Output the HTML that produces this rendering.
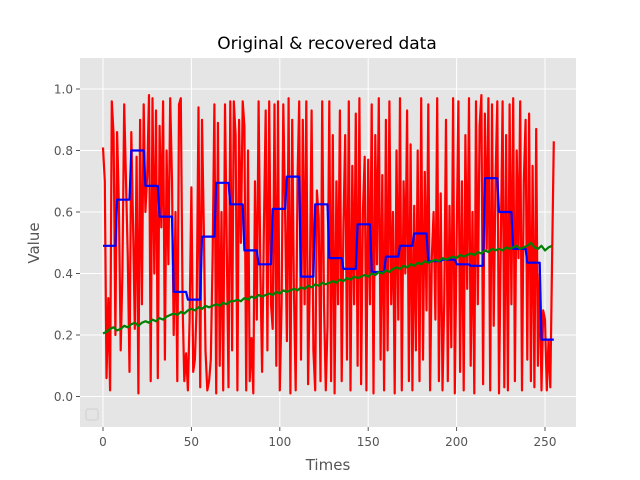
<!DOCTYPE html>
<html><head><meta charset="utf-8"><style>
html,body{margin:0;padding:0;background:#fff;}
svg{display:block;font-family:"DejaVu Sans","Liberation Sans",sans-serif;}
</style></head><body>
<svg id="chart" width="640" height="480">
<rect x="0" y="0" width="640" height="480" fill="#fff"/>
<rect x="80" y="58" width="496" height="369" fill="#e5e5e5"/>
<g id="grid"></g>
<g id="series"></g>
<g id="ticks"></g>
<rect x="86" y="409" width="12" height="11" rx="2" fill="none" stroke="#d0d0d0"/>
<text x="327" y="49" font-size="17" text-anchor="middle" fill="#000">Original &amp; recovered data</text>
<text x="328" y="470" font-size="15" text-anchor="middle" fill="#555">Times</text>
<text x="39" y="243" font-size="15" text-anchor="middle" fill="#555" transform="rotate(-90 39 243)">Value</text>
</svg>
<script>
const xTicks=[0,50,100,150,200,250];
const yTicks=[0.0,0.2,0.4,0.6,0.8,1.0];
const yTickLabels=["0.0","0.2","0.4","0.6","0.8","1.0"];
const original=[
.81,.70,.06,.32,.02,.96,.85,.20,.86,.62,.15,.40,.95,.70,.45,.08,
.86,.55,.22,.78,.01,.90,.30,.95,.60,.72,.98,.05,.97,.40,.93,.06,
.88,.55,.96,.12,.80,.43,.97,.70,.20,.60,.05,.95,.97,.30,.05,.14,
.02,.25,.68,.08,.12,.30,.94,.03,.90,.55,.15,.02,.05,.12,.45,.95,
.01,.89,.10,.60,.02,.95,.48,.03,.96,.15,.96,.85,.02,.90,.50,.96,
.88,.02,.80,.05,.19,.01,.70,.25,.96,.40,.08,.55,.93,.15,.96,.30,
.22,.95,.10,.96,.02,.30,.95,.60,.18,.97,.01,.90,.35,.02,.70,.96,
.12,.90,.30,.96,.04,.40,.93,.15,.02,.67,.58,.05,.96,.30,.02,.23,
.96,.05,.85,.01,.70,.30,.93,.05,.55,.85,.12,.96,.02,.75,.30,.92,
.10,.97,.04,.60,.78,.02,.77,.30,.95,.01,.85,.43,.97,.12,.72,.02,
.90,.15,.96,.30,.60,.01,.80,.25,.97,.02,.70,.40,.93,.05,.82,.02,
.62,.15,.80,.05,.97,.12,.73,.28,.95,.02,.45,.60,.25,.97,.05,.66,
.02,.30,.90,.05,.62,.16,.97,.01,.50,.96,.08,.70,.02,.85,.35,.97,
.10,.60,.01,.96,.30,.88,.98,.04,.92,.48,.97,.02,.95,.23,.70,.96,
.01,.50,.96,.03,.85,.02,.95,.30,.97,.05,.80,.45,.96,.02,.70,.90,
.12,.92,.05,.75,.03,.87,.10,.40,.02,.28,.25,.02,.18,.03,.45,.83
];
const recovered=[.49,.64,.80,.685,.585,.34,.315,.52,.695,.625,.475,.43,.61,.715,.39,.625,.45,.415,.56,.405,.455,.49,.53,.44,.445,.43,.425,.71,.60,.48,.435,.185];
const trend=[
.205,.21,.22,.225,.215,.22,.23,.225,.235,.24,.23,.24,.245,.24,.25,.245,
.255,.25,.26,.265,.27,.265,.275,.27,.28,.285,.28,.29,.285,.295,.29,.295,
.30,.295,.305,.30,.31,.31,.315,.31,.32,.315,.325,.32,.33,.325,.33,.335,
.33,.34,.335,.345,.34,.345,.35,.345,.355,.35,.36,.355,.365,.36,.37,.365,
.37,.375,.37,.38,.375,.385,.38,.39,.385,.39,.395,.39,.40,.395,.405,.40,
.41,.405,.415,.42,.415,.425,.42,.43,.425,.435,.43,.44,.435,.44,.445,.44,
.45,.445,.45,.455,.45,.46,.455,.46,.465,.46,.47,.465,.475,.47,.48,.475,
.48,.475,.485,.48,.485,.49,.48,.485,.49,.50,.485,.48,.49,.475,.485,.49
];
const NS="http://www.w3.org/2000/svg";
const xs=v=>103+(v-0)*1.768;
const ys=v=>396.5-v*307.5;
const grid=document.getElementById('grid'),ticks=document.getElementById('ticks'),series=document.getElementById('series');
function mk(tag,attrs,parent){const e=document.createElementNS(NS,tag);for(const k in attrs)e.setAttribute(k,attrs[k]);parent.appendChild(e);return e;}
xTicks.forEach(t=>{
 const g=mk('line',{x1:xs(t),x2:xs(t),y1:58,y2:427,stroke:'#fff','stroke-width':1},grid);
 
 
 mk('line',{x1:xs(t),x2:xs(t),y1:427,y2:431,stroke:'#555'},ticks);
 const tx=mk('text',{x:xs(t),y:446,'font-size':12,'text-anchor':'middle',fill:'#555'},ticks);
 tx.textContent=t;
 
 
});
yTicks.forEach((t,i)=>{
 const g=mk('line',{x1:80,x2:576,y1:ys(t),y2:ys(t),stroke:'#fff','stroke-width':1},grid);
 
 
 mk('line',{x1:76,x2:80,y1:ys(t),y2:ys(t),stroke:'#555'},ticks);
 const tx=mk('text',{x:73,y:ys(t)+4.5,'font-size':12,'text-anchor':'end',fill:'#555'},ticks);
 tx.textContent=yTickLabels[i];
 
 
});
function line(pts,color,name){
 const p=mk('polyline',{points:pts.map(q=>xs(q[0]).toFixed(1)+','+ys(q[1]).toFixed(1)).join(' '),fill:'none',stroke:color,'stroke-width':2.2,'stroke-linejoin':'round'},series);
 
 
}
line(original.map((v,i)=>[i,v]),'#ff0000','original-line');
const seg=256/recovered.length;
const bp=[];for(let i=0;i<256;i++)bp.push([i,recovered[Math.floor(i/seg)]]);
line(bp,'#0000ff','recovered-line');
const tstep=256/trend.length;
line(trend.map((v,i)=>[i*tstep,v]),'#008000','trend-line');
</script>
</body></html>
